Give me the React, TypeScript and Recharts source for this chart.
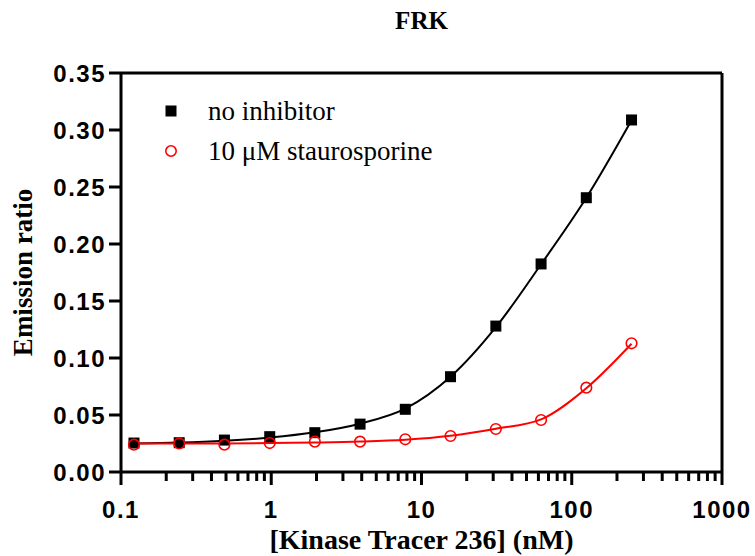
import {
  ComposedChart,
  Line,
  Scatter,
  XAxis,
  YAxis,
  ReferenceLine,
} from 'recharts';

/* data */
const tracerNM = [0.122, 0.244, 0.488, 0.977, 1.95, 3.9, 7.8, 15.6, 31.25, 62.5, 125, 250];
const noInhibitor = [0.0254, 0.0257, 0.028, 0.031, 0.0345, 0.042, 0.055, 0.0836, 0.128, 0.1825, 0.2406, 0.3088];
const stauro = [0.024, 0.025, 0.024, 0.0254, 0.0266, 0.0266, 0.0287, 0.0316, 0.0377, 0.0456, 0.074, 0.1129];
// fitted curves, read at the same concentrations
const noInhibitorFit = [0.025, 0.0258, 0.0274, 0.0302, 0.0348, 0.0424, 0.0555, 0.0835, 0.127, 0.1822, 0.2405, 0.3085];
const stauroFit = [0.0249, 0.025, 0.0251, 0.0254, 0.0259, 0.0267, 0.0283, 0.0318, 0.038, 0.0462, 0.0735, 0.1125];

const xMajor = [0.1, 1, 10, 100, 1000];
const xMinor = [2, 3, 4, 5, 6, 7, 8, 9];
const yTicks = [0, 0.05, 0.1, 0.15, 0.2, 0.25, 0.3, 0.35];

const rows = tracerNM.map((x, i) => ({
  x,
  a: noInhibitor[i],
  b: stauro[i],
  fa: noInhibitorFit[i],
  fb: stauroFit[i],
}));

const xTicks = [
  ...xMajor,
  ...xMajor.slice(0, -1).flatMap(d => xMinor.map(m => +(d * m).toPrecision(3))),
].sort((p, q) => p - q);

const RED = '#ff0000';
const SANS = '"Liberation Sans", Arial, sans-serif';
const SERIF = '"Liberation Serif", "Times New Roman", serif';

function XTick({ x, y, payload }: any) {
  const v = payload.value;
  const major = xMajor.includes(v);
  return (
    <g>
      <line x1={x} x2={x} y1={y} y2={y + (major ? 13 : 9)} stroke="#000" strokeWidth={3} />
      {major && (
        <text
          x={x}
          y={y + 46}
          textAnchor="middle"
          fontFamily={SANS}
          fontWeight={700}
          fontSize={24}
          letterSpacing={1.5}
          fill="#000"
        >
          {v}
        </text>
      )}
    </g>
  );
}

const SquareDot = ({ cx, cy }: any) => (
  <rect x={cx - 5.5} y={cy - 5.5} width={11} height={11} fill="#000" />
);

const OpenCircle = ({ cx, cy }: any) => (
  <circle cx={cx} cy={cy} r={5.3} fill="none" stroke={RED} strokeWidth={1.6} />
);

function LegendBox() {
  const row = { display: 'flex', alignItems: 'center', height: 40 };
  const txt = { fontFamily: SERIF, fontSize: 27, color: '#000', marginLeft: 31, lineHeight: '40px' };
  return (
    <div style={{ position: 'absolute', left: 165, top: 91 }}>
      <div style={row}>
        <svg width={12} height={12}><rect x={0.5} y={0.5} width={11} height={11} fill="#000" /></svg>
        <span style={txt}>no inhibitor</span>
      </div>
      <div style={row}>
        <svg width={12} height={12}><circle cx={6} cy={6} r={5.2} fill="none" stroke={RED} strokeWidth={1.6} /></svg>
        <span style={txt}>10 μM staurosporine</span>
      </div>
    </div>
  );
}

export default function App() {
  return (
    <div style={{ position: 'absolute', left: 0, top: 0, width: 755, height: 556, background: '#fff' }}>
      <svg width={755} height={40} style={{ position: 'absolute', left: 0, top: 0 }}>
        <text x={421.5} y={29} textAnchor="middle" fontFamily={SERIF} fontWeight={700} fontSize={25} fill="#000">
          FRK
        </text>
      </svg>
      <ComposedChart
        width={755}
        height={556}
        data={rows}
        margin={{ top: 73, right: 33, bottom: 0, left: 0 }}
      >
        <XAxis
          dataKey="x"
          type="number"
          scale="log"
          domain={[0.1, 1000]}
          ticks={xTicks}
          interval={0}
          allowDataOverflow
          height={84}
          axisLine={{ stroke: '#000', strokeWidth: 3 }}
          tickLine={false}
          tickSize={0}
          tickMargin={0}
          tick={<XTick />}
          label={{
            value: '[Kinase Tracer 236] (nM)',
            position: 'insideBottom',
            offset: 7,
            style: { fontFamily: SERIF, fontWeight: 700, fontSize: 28, fill: '#000' },
          }}
        />
        <YAxis
          type="number"
          domain={[0, 0.35]}
          ticks={yTicks}
          interval={0}
          width={121}
          tickFormatter={(v: number) => v.toFixed(2)}
          axisLine={{ stroke: '#000', strokeWidth: 3 }}
          tickLine={{ stroke: '#000', strokeWidth: 3 }}
          tickSize={12}
          tickMargin={3}
          tick={{ fontFamily: SANS, fontWeight: 700, fontSize: 24, fill: '#000', letterSpacing: 1.5 }}
          label={{
            content: ({ viewBox }: any) => {
              const cy = viewBox.y + viewBox.height / 2;
              return (
                <text
                  x={32}
                  y={cy}
                  transform={`rotate(-90 32 ${cy})`}
                  textAnchor="middle"
                  fontFamily={SERIF}
                  fontWeight={700}
                  fontSize={27}
                  fill="#000"
                >
                  Emission ratio
                </text>
              );
            },
          }}
        />
        <ReferenceLine y={0.35} stroke="#000" strokeWidth={3} />
        <ReferenceLine x={1000} stroke="#000" strokeWidth={3} />
        <Line
          type="monotone"
          dataKey="fa"
          stroke="#000"
          strokeWidth={2}
          dot={false}
          activeDot={false}
          isAnimationActive={false}
        />
        <Line
          type="monotone"
          dataKey="fb"
          stroke={RED}
          strokeWidth={2}
          dot={false}
          activeDot={false}
          isAnimationActive={false}
        />
        <Scatter dataKey="a" shape={<SquareDot />} isAnimationActive={false} />
        <Scatter dataKey="b" shape={<OpenCircle />} isAnimationActive={false} />
      </ComposedChart>
      <LegendBox />
    </div>
  );
}
